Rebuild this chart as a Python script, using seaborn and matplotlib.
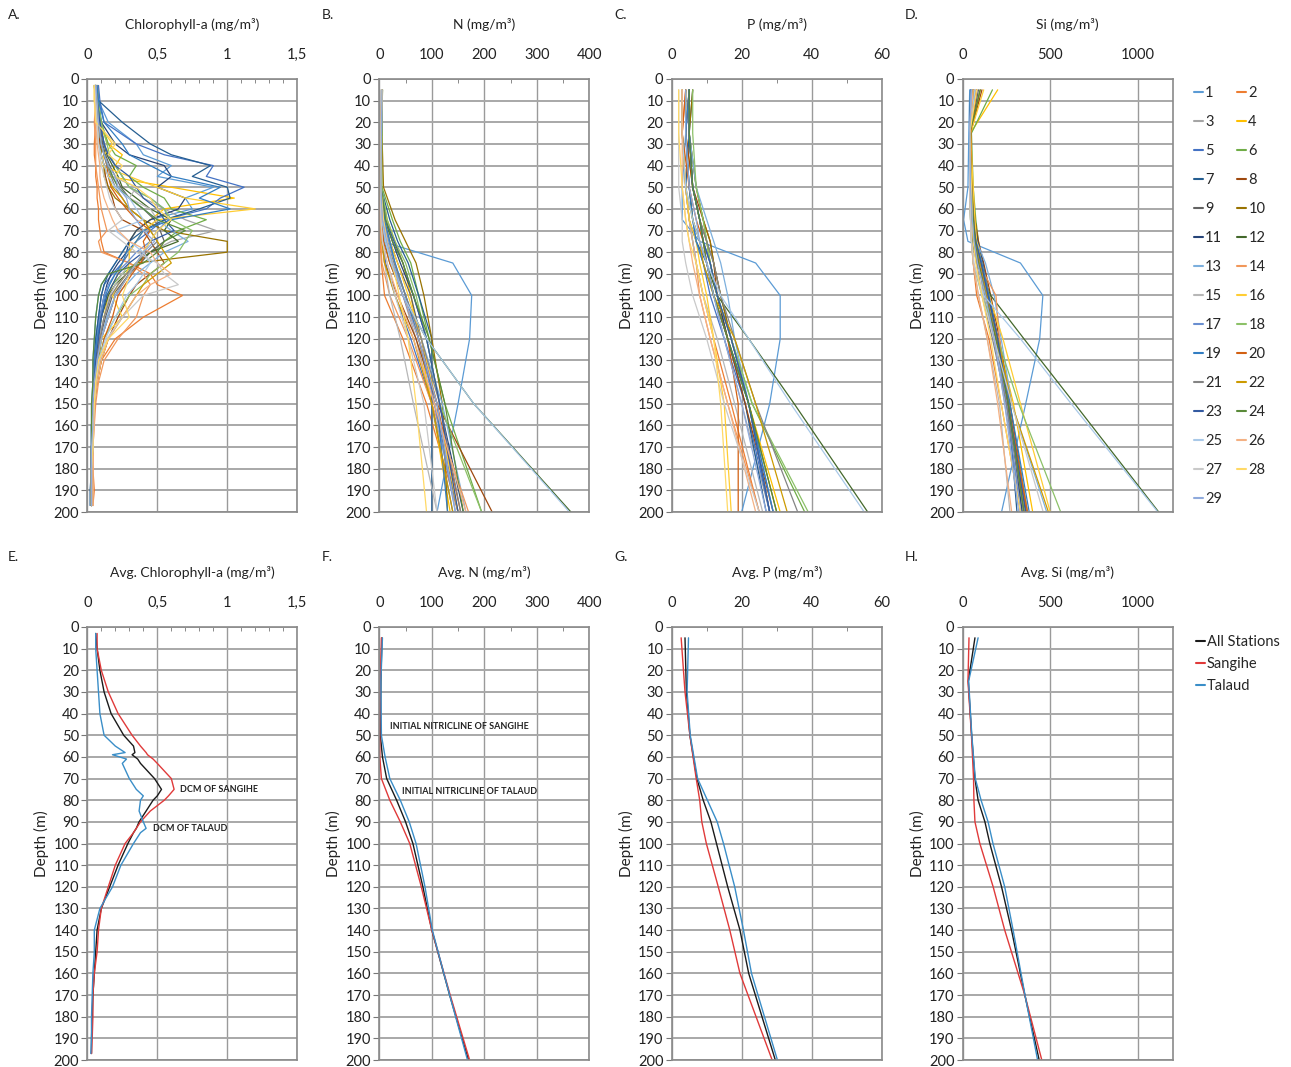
import numpy as np
import pandas as pd
import matplotlib
matplotlib.use('Agg')
import matplotlib.pyplot as plt
import seaborn as sns
from matplotlib.ticker import FuncFormatter, MultipleLocator
from matplotlib.lines import Line2D

sns.set_style('white')
plt.rcParams['font.family'] = ['Lato', 'DejaVu Sans']

# station colours (Excel default series palette)
station_colors = ['#5B9BD5', '#ED7D31', '#A5A5A5', '#FFC000', '#4472C4', '#70AD47',
                  '#255E91', '#9E480E', '#636363', '#997300', '#264478', '#43682B',
                  '#7CAFDD', '#F1975A', '#B7B7B7', '#FFCD33', '#698ED0', '#8CC168',
                  '#327DC2', '#D26012', '#848484', '#CC9A00', '#335AA1', '#5A8A39',
                  '#A9C9E8', '#F4B183', '#C9C9C9', '#FFD966', '#8FAADC']
stations = [str(i) for i in range(1, 30)]

# chlorophyll-a profiles per station
chl_depth = [3, 10, 20, 30, 35, 40, 45, 50, 55, 60, 65, 70, 75, 80, 85, 90, 95, 100,
             110, 120, 130, 140, 150, 160, 170, 180, 190, 197]
chl = {
    '1': [0.07,0.08,0.15,0.35,0.40,0.60,0.50,0.90,0.70,0.75,0.45,0.35,0.30,0.25,0.20,0.15,0.10,0.08,0.06,0.05,0.04,0.04,0.03,0.03,0.03,0.03,0.03,0.03],
    '2': [0.08,0.07,0.06,0.05,0.05,0.06,0.06,0.07,0.07,0.08,0.08,0.09,0.10,0.12,0.30,0.45,0.50,0.68,0.40,0.20,0.10,0.07,0.05,0.04,0.04,0.04,0.05,0.04],
    '3': [0.06,0.07,0.09,0.12,0.15,0.20,0.25,0.30,0.40,0.55,0.70,0.92,0.60,0.45,0.35,0.30,0.25,0.20,0.15,0.10,0.08,0.06,0.05,0.04,0.04,0.03,0.03,0.03],
    '4': [0.05,0.06,0.08,0.15,0.25,0.20,0.15,0.60,1.05,0.55,0.45,0.35,0.30,0.30,0.25,0.22,0.18,0.15,0.12,0.09,0.07,0.05,0.04,0.04,0.03,0.03,0.03,0.03],
    '5': [0.08,0.09,0.12,0.35,0.55,0.90,0.85,1.12,0.95,0.85,0.55,0.45,0.35,0.30,0.25,0.18,0.12,0.10,0.08,0.06,0.05,0.04,0.04,0.03,0.03,0.03,0.03,0.03],
    '6': [0.06,0.07,0.10,0.15,0.20,0.35,0.30,0.40,0.55,0.60,0.85,0.65,0.55,0.45,0.35,0.25,0.18,0.14,0.10,0.08,0.06,0.05,0.04,0.04,0.03,0.03,0.03,0.03],
    '7': [0.07,0.08,0.25,0.45,0.60,0.88,0.75,1.00,1.02,0.80,0.55,0.40,0.30,0.25,0.20,0.15,0.12,0.10,0.08,0.06,0.05,0.04,0.04,0.03,0.03,0.03,0.02,0.02],
    '8': [0.06,0.07,0.08,0.09,0.10,0.12,0.13,0.15,0.18,0.20,0.25,0.40,0.45,0.50,0.55,0.45,0.35,0.30,0.22,0.15,0.10,0.07,0.05,0.04,0.04,0.03,0.03,0.03],
    '9': [0.06,0.07,0.09,0.11,0.13,0.16,0.20,0.24,0.30,0.40,0.48,0.52,0.55,0.45,0.38,0.30,0.24,0.18,0.13,0.09,0.07,0.05,0.04,0.04,0.03,0.03,0.03,0.03],
    '10': [0.06,0.07,0.08,0.10,0.10,0.12,0.12,0.15,0.20,0.30,0.40,0.55,1.00,1.00,0.35,0.30,0.25,0.20,0.15,0.10,0.08,0.06,0.05,0.04,0.04,0.03,0.03,0.03],
    '11': [0.06,0.08,0.10,0.20,0.30,0.55,0.60,0.50,0.70,0.65,0.45,0.35,0.30,0.28,0.22,0.17,0.14,0.12,0.09,0.07,0.05,0.04,0.04,0.03,0.03,0.03,0.03,0.03],
    '12': [0.06,0.07,0.09,0.12,0.14,0.18,0.22,0.25,0.35,0.45,0.60,0.55,0.65,0.45,0.35,0.28,0.20,0.15,0.10,0.08,0.06,0.05,0.04,0.04,0.03,0.03,0.03,0.03],
    '13': [0.07,0.07,0.08,0.10,0.12,0.15,0.18,0.22,0.30,0.40,0.50,0.60,0.72,0.55,0.45,0.35,0.28,0.20,0.14,0.10,0.07,0.05,0.04,0.04,0.03,0.03,0.03,0.03],
    '14': [0.07,0.06,0.05,0.06,0.06,0.06,0.07,0.08,0.09,0.10,0.12,0.14,0.08,0.10,0.30,0.40,0.45,0.40,0.35,0.22,0.12,0.08,0.06,0.05,0.04,0.04,0.04,0.04],
    '15': [0.05,0.06,0.08,0.10,0.12,0.15,0.18,0.35,0.30,0.45,0.50,0.40,0.35,0.30,0.30,0.25,0.20,0.16,0.12,0.08,0.06,0.05,0.04,0.04,0.03,0.03,0.03,0.03],
    '16': [0.05,0.05,0.07,0.18,0.12,0.10,0.30,0.50,0.70,1.20,0.50,0.40,0.35,0.30,0.30,0.28,0.22,0.18,0.25,0.10,0.07,0.05,0.04,0.04,0.03,0.03,0.03,0.03],
    '17': [0.06,0.07,0.09,0.12,0.15,0.20,0.25,0.30,0.45,0.55,0.58,0.50,0.45,0.35,0.28,0.20,0.15,0.12,0.09,0.07,0.05,0.04,0.04,0.03,0.03,0.03,0.03,0.03],
    '18': [0.07,0.08,0.10,0.14,0.16,0.20,0.25,0.30,0.45,0.55,0.60,0.75,0.70,0.65,0.55,0.45,0.40,0.30,0.20,0.12,0.08,0.06,0.05,0.04,0.04,0.03,0.03,0.03],
    '19': [0.07,0.08,0.12,0.25,0.30,0.45,0.60,0.95,0.80,1.02,0.60,0.40,0.35,0.28,0.25,0.20,0.16,0.13,0.10,0.07,0.05,0.05,0.04,0.04,0.03,0.03,0.03,0.03],
    '20': [0.06,0.07,0.08,0.10,0.12,0.14,0.15,0.17,0.22,0.28,0.35,0.45,0.40,0.42,0.38,0.32,0.27,0.22,0.18,0.12,0.09,0.06,0.05,0.04,0.04,0.03,0.03,0.03],
    '21': [0.06,0.07,0.08,0.10,0.12,0.14,0.17,0.20,0.25,0.30,0.40,0.45,0.50,0.42,0.35,0.28,0.22,0.17,0.12,0.09,0.07,0.05,0.04,0.04,0.03,0.03,0.03,0.03],
    '22': [0.05,0.06,0.07,0.08,0.10,0.12,0.15,0.18,0.25,0.30,0.40,0.45,0.50,0.55,0.60,0.50,0.40,0.35,0.25,0.15,0.10,0.07,0.05,0.04,0.04,0.03,0.03,0.03],
    '23': [0.06,0.07,0.09,0.12,0.15,0.20,0.30,0.35,0.40,0.50,0.55,0.62,0.45,0.40,0.30,0.22,0.18,0.14,0.10,0.08,0.06,0.05,0.04,0.04,0.03,0.03,0.03,0.03],
    '24': [0.06,0.07,0.08,0.10,0.12,0.15,0.18,0.22,0.30,0.40,0.50,0.70,0.55,0.50,0.40,0.15,0.10,0.08,0.06,0.05,0.04,0.04,0.03,0.03,0.03,0.03,0.03,0.03],
    '25': [0.05,0.06,0.07,0.08,0.10,0.12,0.15,0.20,0.30,0.35,0.40,0.20,0.30,0.40,0.45,0.40,0.35,0.28,0.20,0.13,0.08,0.06,0.05,0.04,0.04,0.03,0.03,0.03],
    '26': [0.06,0.06,0.06,0.07,0.08,0.09,0.09,0.10,0.12,0.15,0.18,0.22,0.30,0.45,0.50,0.60,0.45,0.35,0.25,0.15,0.10,0.07,0.05,0.05,0.04,0.04,0.04,0.04],
    '27': [0.06,0.06,0.07,0.08,0.09,0.10,0.12,0.14,0.16,0.20,0.25,0.15,0.25,0.35,0.50,0.55,0.65,0.40,0.25,0.14,0.09,0.06,0.05,0.04,0.04,0.03,0.03,0.03],
    '28': [0.05,0.05,0.06,0.20,0.15,0.25,0.20,0.35,0.45,0.50,0.60,0.50,0.45,0.40,0.35,0.30,0.28,0.25,0.30,0.15,0.08,0.06,0.05,0.04,0.04,0.03,0.03,0.03],
    '29': [0.06,0.07,0.08,0.10,0.12,0.15,0.20,0.22,0.28,0.30,0.35,0.40,0.48,0.40,0.35,0.30,0.25,0.20,0.15,0.10,0.07,0.05,0.04,0.04,0.03,0.03,0.03,0.03],
}

# nutrient profiles per station
nut_depth = [5, 25, 50, 65, 75, 85, 100, 120, 150, 200]
nitrogen = {
    '1': [5,3,2,2,5,140,176,172,150,110], '2': [4,2,1,1,2,4,10,45,90,150],
    '3': [4,3,3,8,15,25,45,70,100,150], '4': [5,3,3,15,30,45,60,75,100,135],
    '5': [6,4,3,5,8,12,30,60,100,140], '6': [6,5,5,25,40,60,75,95,125,195],
    '7': [5,4,3,20,35,55,75,100,100,100], '8': [5,3,2,3,5,10,35,70,110,215],
    '9': [5,4,3,10,20,35,60,80,105,150], '10': [6,5,8,30,50,70,85,100,120,130],
    '11': [5,4,3,10,25,40,65,90,115,160], '12': [5,4,3,5,10,20,45,90,180,365],
    '13': [4,3,2,5,10,25,50,80,120,165], '14': [5,3,2,2,3,5,20,55,100,170],
    '15': [4,3,2,3,5,10,20,40,65,110], '16': [5,4,3,10,20,35,55,80,110,150],
    '17': [5,4,3,8,18,30,50,75,105,145], '18': [6,5,4,15,30,50,70,90,115,195],
    '19': [5,4,3,10,20,30,50,75,110,130], '20': [5,3,2,4,8,20,45,75,110,155],
    '21': [5,4,3,8,15,28,50,80,115,155], '22': [5,3,2,3,5,10,30,65,100,140],
    '23': [5,4,3,12,28,45,65,90,115,150], '24': [5,4,3,12,25,45,65,95,125,160],
    '25': [5,4,3,5,12,22,45,90,180,362], '26': [5,3,2,3,6,15,35,65,105,165],
    '27': [4,3,2,3,6,15,30,55,85,110], '28': [5,4,3,8,15,25,38,55,70,90],
    '29': [5,4,3,6,14,25,45,75,110,145],
}
phosphorus = {
    '1': [5,4,3,3,8,24,31,31,28,20], '2': [4,3,4,5,6,7,9,12,17,25],
    '3': [5,5,6,8,9,10,12,15,20,28], '4': [4,4,6,8,10,11,13,16,22,31],
    '5': [5,4,5,6,7,9,11,15,21,28], '6': [5,5,7,9,10,11,13,17,23,38],
    '7': [6,5,4,5,7,10,12,16,21,27], '8': [5,4,6,9,11,12,13,16,21,29],
    '9': [5,5,6,8,10,12,14,17,22,28], '10': [6,5,7,9,11,12,14,17,22,30],
    '11': [5,5,6,8,9,11,13,16,22,28], '12': [4,4,5,6,8,10,13,22,35,56],
    '13': [5,5,7,10,12,14,16,18,22,28], '14': [3,3,4,5,6,7,8,11,16,25],
    '15': [3,3,4,5,6,7,9,13,18,26], '16': [3,3,4,5,7,8,10,12,15,17],
    '17': [5,5,6,8,9,11,13,17,22,29], '18': [6,6,7,9,10,11,13,17,23,39],
    '19': [5,4,5,6,7,9,12,16,22,29], '20': [4,3,5,7,9,10,12,16,19,19],
    '21': [5,5,6,8,10,12,14,18,24,36], '22': [3,3,4,6,8,9,12,18,24,33],
    '23': [5,5,6,8,9,11,13,17,22,28], '24': [5,5,6,8,9,10,12,16,22,30],
    '25': [3,3,4,6,8,10,14,22,34,55], '26': [3,3,3,4,5,6,8,11,16,24],
    '27': [2,2,2,3,3,4,6,10,15,25], '28': [2,2,3,4,5,7,9,12,14,16],
    '29': [4,4,5,7,8,10,12,15,20,27],
}
silicate = {
    '1': [40,35,30,5,30,330,458,440,360,222], '2': [60,40,45,50,55,60,80,150,220,330],
    '3': [80,45,50,60,70,90,120,180,240,340], '4': [200,45,50,60,70,90,130,200,290,400],
    '5': [50,40,45,55,70,100,140,190,250,350], '6': [170,50,60,75,90,110,150,200,270,370],
    '7': [45,40,40,50,65,95,140,200,260,310], '8': [110,45,55,70,90,120,160,210,270,365],
    '9': [90,45,50,60,75,100,140,195,260,360], '10': [100,45,55,70,85,110,150,200,260,350],
    '11': [60,40,50,65,85,115,150,200,260,340], '12': [60,40,40,45,55,80,160,350,640,1120],
    '13': [50,40,50,60,80,130,180,220,280,480], '14': [70,40,45,55,65,90,190,210,260,370],
    '15': [60,40,40,45,50,60,90,140,210,270], '16': [120,45,60,70,80,110,150,230,330,500],
    '17': [50,40,45,55,70,100,140,190,250,330], '18': [80,40,40,45,50,60,110,200,320,560],
    '19': [50,40,45,55,75,110,150,200,270,380], '20': [80,45,50,60,70,90,130,190,260,370],
    '21': [70,40,45,55,65,80,110,170,250,350], '22': [60,40,45,60,75,100,140,200,280,490],
    '23': [50,40,45,60,75,105,145,200,260,360], '24': [100,40,50,60,70,90,130,190,260,350],
    '25': [70,40,40,45,50,60,120,330,620,1115], '26': [60,40,40,45,50,60,90,140,200,280],
    '27': [50,40,40,45,50,65,110,180,280,460], '28': [80,40,50,55,60,75,110,160,220,330],
    '29': [50,40,45,55,65,85,130,180,240,320],
}

# averages: All Stations / Sangihe / Talaud
groups = ['All Stations', 'Sangihe', 'Talaud']
group_colors = {'All Stations': '#1A1A1A', 'Sangihe': '#E03A3A', 'Talaud': '#3A8EC8'}

avg_chl_depth = [3, 10, 20, 30, 40, 50, 55, 58, 59, 61, 63, 70, 75, 78, 80, 85, 90, 93, 95,
                 100, 110, 120, 130, 140, 150, 160, 170, 180, 190, 197]
avg_chl_all = [0.06,0.07,0.09,0.12,0.17,0.26,0.33,0.34,0.32,0.36,0.38,0.48,0.53,0.50,0.47,0.42,0.37,0.35,0.33,0.29,0.22,0.16,0.10,0.07,0.06,0.05,0.04,0.035,0.03,0.03]
avg_chl_san = [0.07,0.07,0.10,0.15,0.22,0.32,0.38,0.42,0.43,0.47,0.50,0.60,0.62,0.58,0.55,0.45,0.38,0.35,0.33,0.27,0.20,0.15,0.10,0.08,0.07,0.05,0.04,0.04,0.035,0.03]
avg_chl_tal = [0.06,0.06,0.07,0.08,0.09,0.12,0.20,0.27,0.18,0.28,0.25,0.30,0.35,0.40,0.38,0.37,0.40,0.42,0.38,0.33,0.24,0.18,0.09,0.05,0.05,0.04,0.035,0.03,0.03,0.025]

avg_n_depth = [5, 25, 50, 60, 70, 80, 90, 100, 120, 140, 170, 200]
avg_n_all = [5,3,2,6,14,33,50,64,83,100,134,170]
avg_n_san = [4,2,1,1,4,20,40,58,80,100,135,172]
avg_n_tal = [6,3,4,11,20,40,57,70,87,101,134,168]

avg_p_depth = [5, 30, 50, 70, 80, 90, 100, 120, 140, 160, 200]
avg_p_all = [3.8,4.2,5.2,7.2,9.0,11.2,12.8,16.0,19.5,22.0,29.6]
avg_p_san = [2.7,3.8,5.2,7.0,8.0,8.6,9.9,13.3,16.6,19.5,28.7]
avg_p_tal = [4.8,4.4,5.3,7.4,10.2,13.0,14.8,18.0,20.5,22.8,30.2]

avg_si_depth = [5, 25, 50, 70, 80, 90, 100, 120, 140, 170, 200]
avg_si_all = [70,32,51,70,88,127,155,222,279,355,437]
avg_si_san = [36,30,50,62,64,70,98,174,240,355,452]
avg_si_tal = [88,34,52,72,105,145,173,240,288,356,428]


def long_station(depth, table):
    rows = []
    for s in stations:
        for d, v in zip(depth, table[s]):
            rows.append((s, d, v))
    return pd.DataFrame(rows, columns=['station', 'depth', 'value'])


def long_avg(depth, series):
    rows = []
    for g, vals in zip(groups, series):
        for d, v in zip(depth, vals):
            rows.append((g, d, v))
    return pd.DataFrame(rows, columns=['group', 'depth', 'value'])


W, H = 1291, 1067
fig = plt.figure(figsize=(W / 100, H / 100), dpi=100)

lefts = [87.3, 379.3, 671.7, 962.7]
width = 210.0
tops = [79, 627]
height = 433

comma = FuncFormatter(lambda v, p: ('%g' % v).replace('.', ','))
xspecs = [
    dict(lim=1.5, major=0.5, minor=0.1, fmt=comma),
    dict(lim=400, major=100, minor=50, fmt=None),
    dict(lim=60, major=20, minor=10, fmt=None),
    dict(lim=1200, major=500, minor=None, fmt=None),
]
titles_top = ['Chlorophyll-a (mg/m³)', 'N (mg/m³)', 'P (mg/m³)', 'Si (mg/m³)']
titles_bot = ['Avg. Chlorophyll-a (mg/m³)', 'Avg. N (mg/m³)', 'Avg. P (mg/m³)', 'Avg. Si (mg/m³)']
letters_top = ['A.', 'B.', 'C.', 'D.']
letters_bot = ['E.', 'F.', 'G.', 'H.']
letter_x = [8, 322, 614, 905]

top_data = [long_station(chl_depth, chl), long_station(nut_depth, nitrogen),
            long_station(nut_depth, phosphorus), long_station(nut_depth, silicate)]
bot_data = [long_avg(avg_chl_depth, [avg_chl_all, avg_chl_san, avg_chl_tal]),
            long_avg(avg_n_depth, [avg_n_all, avg_n_san, avg_n_tal]),
            long_avg(avg_p_depth, [avg_p_all, avg_p_san, avg_p_tal]),
            long_avg(avg_si_depth, [avg_si_all, avg_si_san, avg_si_tal])]

palette = dict(zip(stations, station_colors))


def style_axis(ax, spec, title):
    ax.set_xlim(0, spec['lim'])
    ax.set_ylim(200, 0)
    ax.xaxis.tick_top()
    ax.xaxis.set_major_locator(MultipleLocator(spec['major']))
    if spec['minor']:
        ax.xaxis.set_minor_locator(MultipleLocator(spec['minor']))
    if spec['fmt'] is not None:
        ax.xaxis.set_major_formatter(spec['fmt'])
    ax.yaxis.set_major_locator(MultipleLocator(10))
    ax.tick_params(axis='x', which='major', length=0, labelsize=10.5, pad=12, colors='#222')
    ax.tick_params(axis='x', which='minor', length=3, direction='in', color='#777', top=True)
    ax.tick_params(axis='y', which='major', length=4, direction='out', color='#777',
                   labelsize=10.5, pad=2, left=True, labelcolor='#222')
    ax.grid(axis='x', which='major', color='#9A9A9A', lw=1.0)
    ax.grid(axis='y', which='major', color='#A8A8A8', lw=1.4)
    ax.set_axisbelow(True)
    for sp in ax.spines.values():
        sp.set_color('#8A8A8A')
        sp.set_linewidth(1.2)
    ax.set_ylabel('Depth (m)', fontsize=11, labelpad=3, color='#222')
    ax.set_xlabel('')
    ax.set_title(title, fontsize=10, pad=36, color='#222')


for i in range(4):
    ax = fig.add_axes([lefts[i] / W, 1 - (tops[0] + height) / H, width / W, height / H])
    sns.lineplot(data=top_data[i], x='value', y='depth', hue='station', palette=palette,
                 sort=False, estimator=None, lw=0.9, legend=False, ax=ax)
    style_axis(ax, xspecs[i], titles_top[i])
    fig.text(letter_x[i] / W, 1 - 15 / H, letters_top[i], fontsize=10, va='center', color='#222')

    ax2 = fig.add_axes([lefts[i] / W, 1 - (tops[1] + height) / H, width / W, height / H])
    sns.lineplot(data=bot_data[i], x='value', y='depth', hue='group', palette=group_colors,
                 sort=False, estimator=None, lw=1.0, legend=False, ax=ax2)
    style_axis(ax2, xspecs[i], titles_bot[i])
    fig.text(letter_x[i] / W, 1 - 557 / H, letters_bot[i], fontsize=10, va='center', color='#222')

    if i == 0:
        ax2.text(0.66, 75, 'DCM OF SANGIHE', fontsize=6.5, fontweight='bold', va='center', color='#222')
        ax2.text(0.47, 93, 'DCM OF TALAUD', fontsize=6.5, fontweight='bold', va='center', color='#222')
    if i == 1:
        ax2.text(20, 46, 'INITIAL NITRICLINE OF SANGIHE', fontsize=6.5, fontweight='bold',
                 va='center', color='#222')
        ax2.text(43, 76, 'INITIAL NITRICLINE OF TALAUD', fontsize=6.5, fontweight='bold',
                 va='center', color='#222')

# station legend, filled row-wise like the original
order = [s for s in stations if int(s) % 2 == 1] + [s for s in stations if int(s) % 2 == 0]
handles = [Line2D([], [], color=palette[s], lw=1.5) for s in order]
fig.legend(handles, order, loc='upper left', bbox_to_anchor=(1194 / W, 1 - 86 / H),
           ncol=2, frameon=False, fontsize=10.5, handlelength=0.6, handletextpad=0.15,
           labelspacing=1.03, columnspacing=1.05, borderaxespad=0, borderpad=0)

ghandles = [Line2D([], [], color=group_colors[g], lw=1.5) for g in groups]
fig.legend(ghandles, groups, loc='upper left', bbox_to_anchor=(1196 / W, 1 - 635 / H),
           ncol=1, frameon=False, fontsize=10.5, handlelength=0.6, handletextpad=0.15,
           labelspacing=0.55, borderaxespad=0, borderpad=0)

fig.savefig('out.png', dpi=100, facecolor='white')
